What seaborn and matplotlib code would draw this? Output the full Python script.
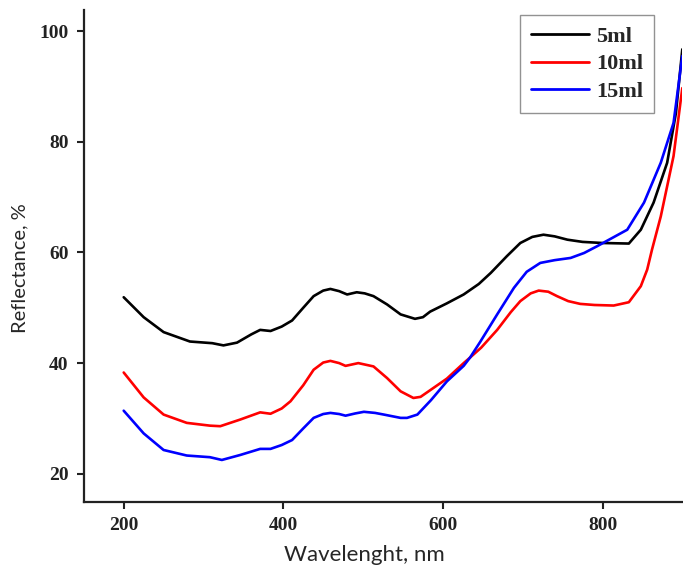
import matplotlib
matplotlib.use("Agg")
import matplotlib.pyplot as plt
import seaborn as sns
import pandas as pd

# ---- data ----
wl_5ml = [200, 225, 250, 283, 311, 325, 342, 360, 371, 384, 398, 411, 425, 438, 450,
          459, 470, 480, 492, 502, 513, 530, 547, 565, 575, 584, 605, 626, 645, 660,
          680, 697, 712, 726, 740, 756, 775, 800, 833, 848, 864, 881, 892, 900]
r_5ml = [51.9, 48.3, 45.6, 43.9, 43.6, 43.2, 43.7, 45.2, 46.0, 45.8, 46.6, 47.7, 50.0, 52.1, 53.1,
         53.4, 53.0, 52.4, 52.8, 52.6, 52.1, 50.6, 48.8, 48.0, 48.3, 49.3, 50.8, 52.4, 54.3, 56.3,
         59.3, 61.7, 62.8, 63.2, 62.9, 62.3, 61.9, 61.7, 61.6, 64.1, 69.0, 76.2, 85.2, 96.7]

wl_10ml = [200, 225, 250, 279, 308, 321, 346, 371, 384, 398, 409, 425, 438, 450, 459,
           470, 478, 494, 513, 530, 547, 563, 572, 582, 605, 626, 634, 648, 668, 685,
           697, 710, 720, 732, 743, 757, 772, 790, 814, 833, 848, 856, 862, 873, 889, 900]
r_10ml = [38.3, 33.8, 30.7, 29.2, 28.7, 28.6, 29.8, 31.1, 30.85, 31.8, 33.1, 36.0, 38.8, 40.1, 40.4,
          40.0, 39.5, 40.0, 39.4, 37.3, 34.9, 33.7, 33.9, 34.9, 37.2, 40.0, 41.0, 42.8, 46.0, 49.2,
          51.2, 52.6, 53.1, 52.9, 52.1, 51.2, 50.7, 50.5, 50.4, 51.0, 53.9, 56.9, 60.5, 66.5, 77.4, 89.7]

wl_15ml = [200, 225, 250, 279, 308, 323, 346, 371, 384, 398, 411, 425, 438, 450, 459,
           470, 478, 490, 501, 515, 526, 547, 555, 568, 585, 605, 626, 634, 647, 668,
           689, 705, 722, 740, 760, 777, 793, 812, 831, 852, 873, 889, 900]
r_15ml = [31.4, 27.3, 24.3, 23.3, 23.0, 22.5, 23.4, 24.5, 24.5, 25.2, 26.1, 28.2, 30.1, 30.8, 31.0,
          30.8, 30.5, 30.9, 31.2, 31.0, 30.7, 30.1, 30.1, 30.7, 33.3, 36.7, 39.5, 41.0, 43.9, 48.8,
          53.6, 56.5, 58.1, 58.6, 59.0, 59.9, 61.1, 62.6, 64.1, 69.0, 76.2, 83.4, 95.5]

series_names = ["5ml", "10ml", "15ml"]
series_colors = ["#000000", "#ff0000", "#0000ff"]
x_ticks = [200, 400, 600, 800]
y_ticks = [20, 40, 60, 80, 100]

df = pd.concat([
    pd.DataFrame({"Wavelength": wl_5ml, "Reflectance": r_5ml, "Sample": "5ml"}),
    pd.DataFrame({"Wavelength": wl_10ml, "Reflectance": r_10ml, "Sample": "10ml"}),
    pd.DataFrame({"Wavelength": wl_15ml, "Reflectance": r_15ml, "Sample": "15ml"}),
], ignore_index=True)

sns.set_style("ticks")
plt.rcParams["font.family"] = ["Liberation Serif", "DejaVu Serif"]

fig = plt.figure(figsize=(6.83, 5.71), dpi=100)
ax = fig.add_axes([0.1227, 0.1208, 0.8763, 0.8617])

sns.lineplot(data=df, x="Wavelength", y="Reflectance", hue="Sample",
             hue_order=series_names, palette=series_colors, linewidth=1.9,
             sort=True, estimator=None, ax=ax)

ax.set_xlim(150, 900)
ax.set_ylim(14.9, 103.8)
ax.set_xticks(x_ticks)
ax.set_yticks(y_ticks)
for lab in ax.get_xticklabels() + ax.get_yticklabels():
    lab.set_fontweight("bold")
    lab.set_fontsize(14)
    lab.set_fontfamily(["Liberation Serif"])
ax.tick_params(axis="both", direction="out", length=5, width=1.5, pad=6, colors="#222222")

sns.despine(ax=ax, top=True, right=True)
for s in ["left", "bottom"]:
    ax.spines[s].set_linewidth(1.6)
    ax.spines[s].set_color("#222222")

ax.set_xlabel("Wavelenght, nm", fontsize=16, family=["Lato", "DejaVu Sans"])
ax.set_ylabel("Reflectance, %", fontsize=14.5, family=["Lato", "DejaVu Sans"])
ax.xaxis.set_label_coords(0.468, -0.088)
ax.yaxis.set_label_coords(-0.093, 0.476)

leg = ax.legend(loc="upper right", bbox_to_anchor=(0.9527, 0.9898), borderaxespad=0.0,
                frameon=True, fancybox=False,
                handlelength=2.6, handletextpad=0.3, borderpad=0.5, labelspacing=0.32,
                prop={"family": "Liberation Serif", "weight": "bold", "size": 16})
leg.get_frame().set_edgecolor("#777777")
leg.get_frame().set_linewidth(1.0)
for line in leg.get_lines():
    line.set_linewidth(2.0)

fig.savefig("out.png", dpi=100, facecolor="white")
